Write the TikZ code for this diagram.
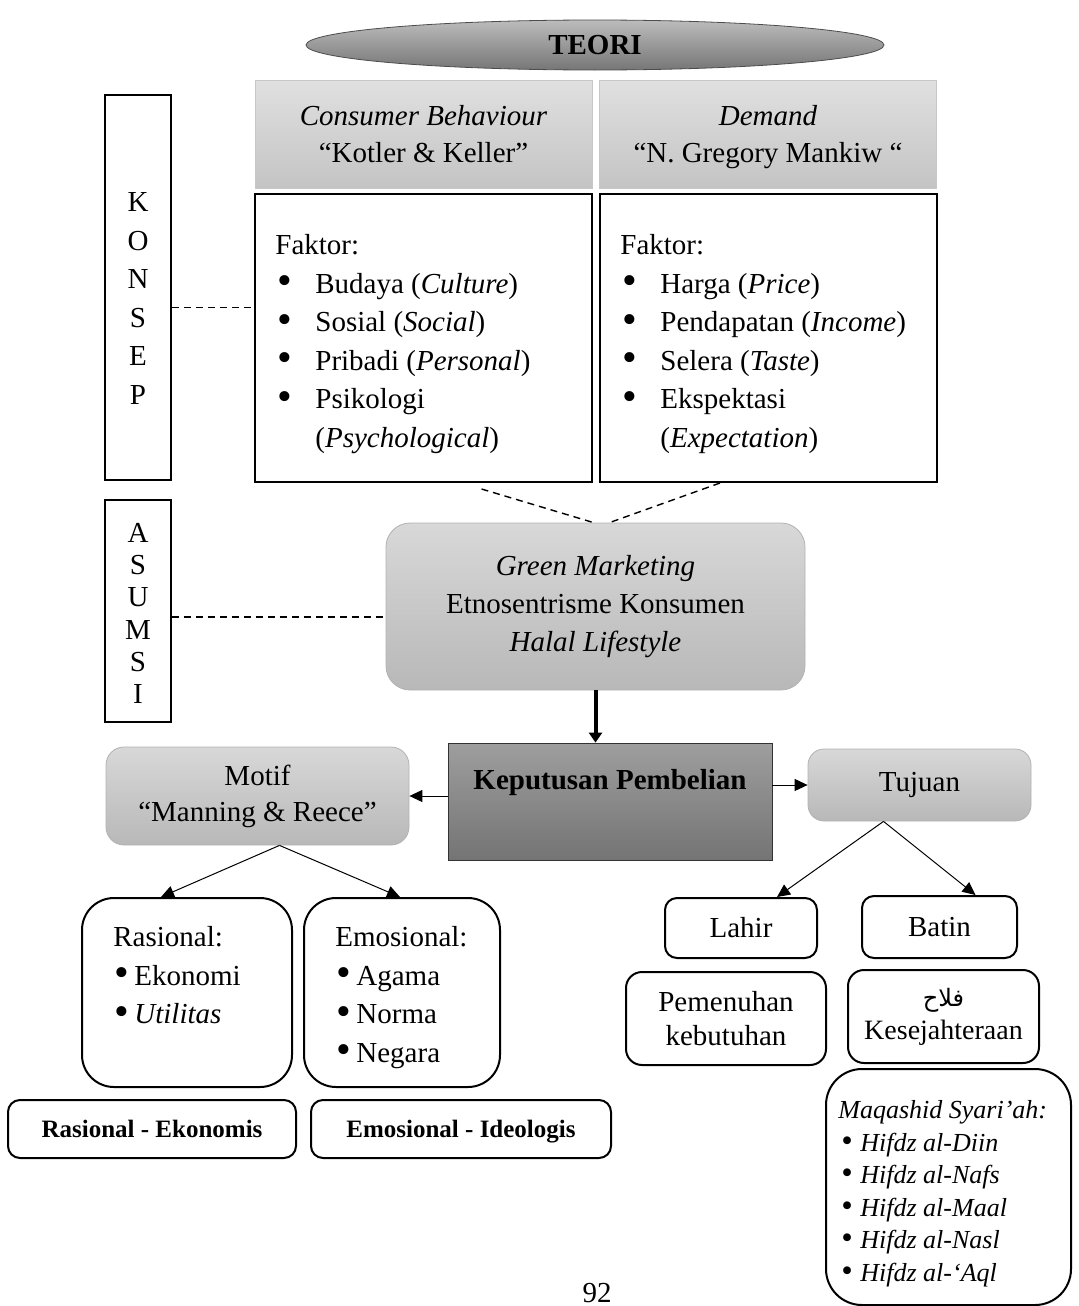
\documentclass[tikz,border=0pt]{standalone}
\usepackage{fontspec}
\setmainfont{Liberation Serif}
\newfontfamily\arabicfont[Script=Arabic]{DejaVu Sans}
\TeXXeTstate=1
\usetikzlibrary{arrows.meta,positioning,calc,shapes.geometric}
\definecolor{tt}{RGB}{188,188,188}
\definecolor{tb}{RGB}{118,118,118}
\definecolor{ht}{RGB}{224,224,224}
\definecolor{hb}{RGB}{196,196,196}
\definecolor{gt}{RGB}{216,216,216}
\definecolor{gb}{RGB}{184,184,184}
\definecolor{kt}{RGB}{158,158,158}
\definecolor{kb}{RGB}{116,116,116}
\newcommand{\bb}{\raisebox{-.12ex}{\scalebox{1.45}{\textbullet}}}
\newcommand{\bul}{\makebox[20pt][l]{\hspace{1.2pt}\bb}}
\newcommand{\bulk}{\makebox[10.5pt][l]{\hspace{.3pt}\bb}}
\newcommand{\bulm}{\makebox[11pt][l]{\hspace{1.3pt}\smash{\scalebox{1.25}{\textbullet}}}}
\newcommand{\nodp}[1]{\raisebox{0pt}[\height][0pt]{#1}}
\tikzset{every node/.style={font=\fontsize{14.5}{19.25}\selectfont,inner sep=0pt},
 teo/.style={ellipse,draw=black!70,top color=tt,bottom color=tb,minimum width=289pt,minimum height=25pt,font=\fontsize{14.5}{17}\selectfont\bfseries},
 hdr/.style={draw=black!22,top color=ht,bottom color=hb,minimum width=168.5pt,minimum height=54pt,align=center,font=\fontsize{14.5}{18.5}\selectfont},
 fak/.style={draw,line width=1pt,minimum width=168.5pt,minimum height=144pt},
 vbar/.style={draw,line width=1.2pt,minimum width=33pt,align=center},
 gry/.style={draw=black!30,top color=gt,bottom color=gb,align=center},
 kbx/.style={draw=black!80,top color=kt,bottom color=kb,minimum width=162pt,minimum height=58.5pt},
 rnd/.style={draw,line width=1pt,align=center},
 lst/.style={align=left,anchor=north west},
 dsh/.style={dash pattern=on 3.5pt off 2.5pt,line width=.7pt},
 arr/.style={-{Triangle[length=6.5pt,width=6pt]},line width=.5pt},
 tarr/.style={-{Triangle[length=5pt,width=6.5pt]},line width=2pt}}
\begin{document}
\begin{tikzpicture}[x=.5pt,y=-.5pt]
\useasboundingbox (0,0) rectangle (1078,1306);
\node[teo] (teori) at (595,45) {TEORI};
\node[hdr] (hl) at (423.5,134) {\textit{Consumer Behaviour}\\“Kotler \& Keller”};
\node[hdr] (hr) at (768,134) {\textit{Demand}\\\nodp{“N. Gregory Mankiw “}};
\node[fak] (fl) at (423.5,338) {};\node[fak] (fr) at (768,338) {};
\node[lst] (fltx) at (275,234) {Faktor:\\\bul Budaya (\textit{Culture})\\\bul Sosial (\textit{Social})\\\bul Pribadi (\textit{Personal})\\\bul Psikologi\\\hspace*{20pt}(\textit{Psychological})};
\node[lst] (frtx) at (620,234) {Faktor:\\\bul Harga (\textit{Price})\\\bul Pendapatan (\textit{Income})\\\bul Selera (\textit{Taste})\\\bul Ekspektasi\\\hspace*{20pt}(\textit{Expectation})};
\node[vbar,minimum height=192.5pt] (kon) at (138,287.5) {};
\node[align=center,font=\fontsize{14.5}{19.3}\selectfont] (kontx) at (138,298.5) {K\\O\\N\\S\\E\\P};
\node[vbar,minimum height=111pt] (asu) at (138,611) {};
\node[align=center,font=\fontsize{14.5}{16.1}\selectfont] (asutx) at (138,613.5) {A\\S\\U\\M\\S\\I};
\node[gry,minimum width=209.5pt,minimum height=83.5pt,rounded corners=12pt,font=\fontsize{14.5}{19}\selectfont] (gm) at (595.5,606.5) {\textit{Green Marketing}\\Etnosentrisme Konsumen\\\textit{Halal Lifestyle}};
\node[kbx] (kp) at (610,801.5) {};
\node[font=\fontsize{14.5}{17}\selectfont\bfseries] (kptx) at (610,779) {\nodp{Keputusan Pembelian}};
\node[gry,minimum width=151.5pt,minimum height=49pt,rounded corners=9pt,font=\fontsize{14.5}{18}\selectfont] (mot) at (257.5,796) {Motif\\“Manning \& Reece”};
\node[gry,minimum width=111.5pt,minimum height=36pt,rounded corners=8pt] (tuj) at (919.5,785) {\raisebox{2pt}{Tujuan}};
\node[rnd,minimum width=105pt,minimum height=94.5pt,rounded corners=16pt] (ras) at (187,992.5) {};
\node[lst] (rastx) at (113,926) {Rasional:\\\bulk Ekonomi\\\bulk\textit{Utilitas}};
\node[rnd,minimum width=98pt,minimum height=94.5pt,rounded corners=16pt] (emo) at (402,992.5) {};
\node[lst] (emotx) at (335,926) {Emosional:\\\bulk Agama\\\bulk Norma\\\bulk Negara};
\node[rnd,minimum width=144pt,minimum height=29pt,rounded corners=6pt,font=\fontsize{12.5}{15}\selectfont\bfseries] (rek) at (152,1129) {Rasional - Ekonomis};
\node[rnd,minimum width=150pt,minimum height=29pt,rounded corners=6pt,font=\fontsize{12.5}{15}\selectfont\bfseries] (eid) at (461,1129) {\nodp{Emosional - Ideologis}};
\node[rnd,minimum width=76pt,minimum height=30pt,rounded corners=6pt] (lah) at (741,928) {Lahir};
\node[rnd,minimum width=77.5pt,minimum height=31pt,rounded corners=6pt] (bat) at (939.5,927) {Batin};
\node[rnd,minimum width=100pt,minimum height=46.5pt,rounded corners=8pt,font=\fontsize{14.5}{17}\selectfont] (pem) at (726,1018.5) {Pemenuhan\\kebutuhan};
\node[rnd,minimum width=95.5pt,minimum height=46.5pt,rounded corners=8pt,font=\fontsize{14}{16.5}\selectfont] (fal) at (943.5,1016.5) {{\arabicfont\fontsize{12}{14}\selectfont\beginR فلاح\endR}\\Kesejahteraan};
\node[rnd,minimum width=122.5pt,minimum height=118pt,rounded corners=18pt] (maq) at (948.5,1187) {};
\node[lst,font=\fontsize{13}{16.3}\selectfont\itshape] (maqtx) at (838,1100) {Maqashid Syari’ah:\\\bulm Hifdz al-Diin\\\bulm Hifdz al-Nafs\\\bulm Hifdz al-Maal\\\bulm Hifdz al-Nasl\\\bulm Hifdz al-‘Aql};
\node (pg) at (597,1293) {92};
\draw[dsh] ([yshift=-10pt]kon.east) -- ([yshift=-10pt]kon.east -| fl.west);
\draw[dsh] ([yshift=-3pt]asu.east) -- ([yshift=-3pt]asu.east -| gm.west);
\draw[dsh] ([xshift=29pt,yshift=-3pt]fl.south) -- ([xshift=-1pt]gm.north);
\draw[dsh] ([xshift=-24pt]fr.south) -- ([xshift=7pt]gm.north);
\draw[tarr] (gm.south) -- (gm.south |- kp.north);
\draw[arr] (kp.west |- mot) -- (mot.east);
\draw[arr] (kp.east |- tuj) -- (tuj.west);
\coordinate (ma) at ([xshift=11pt]mot.south);
\draw[arr] (ma) -- ([xshift=-13pt]ras.north);\draw[arr] (ma) -- ([xshift=-1pt]emo.north);
\coordinate (ta) at ([xshift=-18pt]tuj.south);
\draw[arr] (ta) -- ([xshift=18pt]lah.north);\draw[arr] (ta) -- ([xshift=18pt]bat.north);
\end{tikzpicture}
\end{document}
